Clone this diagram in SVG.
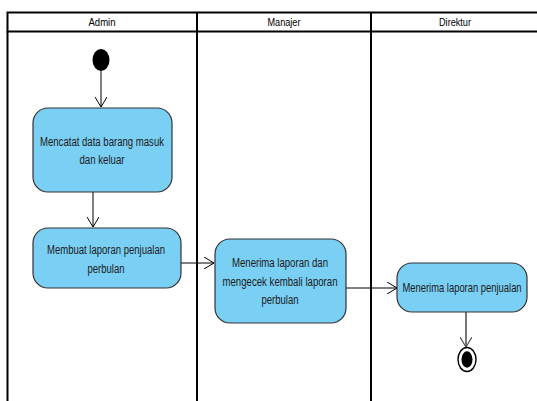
<svg xmlns="http://www.w3.org/2000/svg" width="537" height="401" viewBox="0 0 537 401">
  <style>
    .lane { fill: none; stroke: #000; stroke-width: 2; }
    .lanetxt { font-family: "Liberation Sans", Arial, sans-serif; font-size: 11.5px; fill: #000; text-anchor: middle; }
    .act { fill: #7ACFF4; stroke: #333; stroke-width: 1.2; }
    .txt { font-family: "Liberation Sans", Arial, sans-serif; font-size: 12px; fill: #1a1a1a; text-anchor: middle; }
    .flow { fill: none; stroke: #000; stroke-width: 1; }
    .flow.end { stroke: #555; stroke-width: 1.6; }
  </style>
  <defs>
    <marker id="open" viewBox="0 0 10 12" refX="10" refY="6" markerWidth="10" markerHeight="12" markerUnits="userSpaceOnUse" orient="auto">
      <path d="M0,0 L10,6 L0,12" fill="none" stroke="#000" stroke-width="1"/>
    </marker>
    <marker id="openGrey" viewBox="0 0 10 12" refX="10" refY="6" markerWidth="10" markerHeight="12" markerUnits="userSpaceOnUse" orient="auto">
      <path d="M0,0 L10,6 L0,12" fill="none" stroke="#555" stroke-width="1.2"/>
    </marker>
  </defs>
  <rect width="537" height="401" fill="#fff"/>

  <!-- swimlanes -->
  <g id="lanes">
    <rect class="lane" x="7.5" y="12.5" width="540" height="19"/>
    <line class="lane" x1="7.5" y1="31" x2="7.5" y2="401"/>
    <line class="lane" x1="197" y1="12" x2="197" y2="401"/>
    <line class="lane" x1="371" y1="12" x2="371" y2="401"/>
    <text class="lanetxt" x="102" y="26" textLength="27" lengthAdjust="spacingAndGlyphs">Admin</text>
    <text class="lanetxt" x="284" y="26" textLength="33" lengthAdjust="spacingAndGlyphs">Manajer</text>
    <text class="lanetxt" x="455" y="26" textLength="32" lengthAdjust="spacingAndGlyphs">Direktur</text>
  </g>

  <!-- connectors -->
  <g id="connectors">
    <line class="flow" x1="101" y1="71" x2="101" y2="107" marker-end="url(#open)"/>
    <line class="flow" x1="93" y1="192" x2="93" y2="227" marker-end="url(#open)"/>
    <line class="flow" x1="181" y1="263" x2="214" y2="263" marker-end="url(#open)"/>
    <line class="flow" x1="346" y1="288" x2="397" y2="288" marker-end="url(#open)"/>
    <line class="flow end" x1="466" y1="312" x2="466" y2="347" marker-end="url(#openGrey)"/>
  </g>

  <g id="start">
    <ellipse cx="101" cy="60" rx="8.5" ry="11" fill="#000"/>
  </g>

  <g id="act1">
    <rect class="act" x="33" y="108" width="139" height="84" rx="15"/>
    <text class="txt" x="102" y="146" textLength="124" lengthAdjust="spacingAndGlyphs">Mencatat data barang masuk</text>
    <text class="txt" x="102" y="164" textLength="45" lengthAdjust="spacingAndGlyphs">dan keluar</text>
  </g>

  <g id="act2">
    <rect class="act" x="33" y="228" width="148" height="60" rx="15"/>
    <text class="txt" x="106" y="254" textLength="118" lengthAdjust="spacingAndGlyphs">Membuat laporan penjualan</text>
    <text class="txt" x="106" y="273" textLength="37" lengthAdjust="spacingAndGlyphs">perbulan</text>
  </g>

  <g id="act3">
    <rect class="act" x="215" y="239" width="131" height="84" rx="15"/>
    <text class="txt" x="280" y="267" textLength="96" lengthAdjust="spacingAndGlyphs">Menerima laporan dan</text>
    <text class="txt" x="280" y="286" textLength="115" lengthAdjust="spacingAndGlyphs">mengecek kembali laporan</text>
    <text class="txt" x="280" y="304" textLength="37" lengthAdjust="spacingAndGlyphs">perbulan</text>
  </g>

  <g id="act4">
    <rect class="act" x="397" y="263" width="130" height="49" rx="15"/>
    <!-- condensed label, squeezed horizontally to sit inside the narrow box -->
    <text class="txt" transform="translate(462,292) scale(0.785,1)" x="0" y="0">Menerima laporan penjualan</text>
  </g>

  <g id="end">
    <ellipse cx="467" cy="359.5" rx="9" ry="12" fill="#fff" stroke="#000" stroke-width="1.4"/>
    <ellipse cx="467" cy="359.5" rx="5.5" ry="8.2" fill="#000"/>
  </g>
</svg>
